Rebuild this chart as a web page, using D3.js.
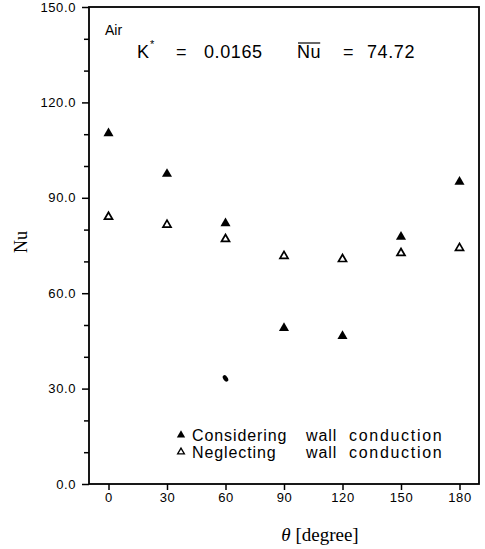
<!DOCTYPE html>
<html>
<head>
<meta charset="utf-8">
<script src="https://cdn.jsdelivr.net/npm/d3@7"></script>
<style>
  body { margin: 0; background: #fff; }
  svg { display: block; }
  .tick text { font-family: "Liberation Sans", Arial, sans-serif; font-size: 13px; letter-spacing: 0.6px; fill: #000; }
</style>
</head>
<body>
<div id="chart"></div>
<script>
// angles (degree) and Nu values
var theta = [0, 30, 60, 90, 120, 150, 180];
var nuWall = [110.3, 97.5, 82.0, 49.0, 46.5, 77.7, 95.0];    // considering wall conduction
var nuNoWall = [84.0, 81.5, 77.0, 71.7, 70.7, 72.6, 74.2];   // neglecting wall conduction
var smudge = [[60, 33.2]];
var yTicks = [0, 30, 60, 90, 120, 150];
var yMinor = [10, 20, 40, 50, 70, 80, 100, 110, 130, 140];
var xTicks = [0, 30, 60, 90, 120, 150, 180];

var W = 485, H = 549;
var plotL = 89, plotR = 479, plotT = 7, plotB = 484;

var svg = d3.select("#chart").append("svg")
    .attr("width", W)
    .attr("height", H);

var x = d3.scaleLinear().domain([-10, 190]).range([plotL, plotR]);
var y = d3.scaleLinear().domain([0, 150]).range([plotB, plotT]);

// frame
svg.append("rect")
    .attr("x", plotL).attr("y", plotT)
    .attr("width", plotR - plotL).attr("height", plotB - plotT)
    .attr("fill", "none")
    .attr("stroke", "#000")
    .attr("stroke-width", 1.8);

// y axis
svg.append("g")
    .attr("transform", "translate(" + plotL + ",0)")
    .call(d3.axisLeft(y).tickValues(yTicks).tickSize(7).tickPadding(6)
        .tickFormat(d3.format(".1f")))
    .call(function(g) { g.select(".domain").remove(); })
    .selectAll("line").attr("stroke-width", 1.5);

svg.append("g")
    .attr("transform", "translate(" + plotL + ",0)")
    .call(d3.axisLeft(y).tickValues(yMinor).tickSize(5).tickFormat(""))
    .call(function(g) { g.select(".domain").remove(); })
    .selectAll("line").attr("stroke-width", 1.5);

// x axis
svg.append("g")
    .attr("transform", "translate(0," + plotB + ")")
    .call(d3.axisBottom(x).tickValues(xTicks).tickSize(6).tickPadding(3)
        .tickFormat(d3.format("d")))
    .call(function(g) { g.select(".domain").remove(); })
    .selectAll("line").attr("stroke-width", 1.5);

// axis titles
svg.append("text")
    .attr("transform", "translate(27,242)rotate(-90)")
    .attr("text-anchor", "middle")
    .attr("font-family", "Liberation Serif, serif")
    .attr("font-size", 18)
    .text("Nu");

var xt = svg.append("text")
    .attr("x", 320).attr("y", 541)
    .attr("text-anchor", "middle")
    .attr("font-family", "Liberation Serif, serif")
    .attr("font-size", 19);
xt.append("tspan").attr("font-style", "italic").text("\u03B8");
xt.append("tspan").text(" [degree]");

// annotation
var sans = "Liberation Sans, Arial, sans-serif";
svg.append("text")
    .attr("x", 105).attr("y", 35)
    .attr("font-family", sans).attr("font-size", 14)
    .text("Air");

var annParts = [
    { t: "K", x: 137 },
    { t: "=", x: 176 },
    { t: "0.0165", x: 204 },
    { t: "Nu", x: 297, id: "nubar" },
    { t: "=", x: 343 },
    { t: "74.72", x: 367 }
];
annParts.forEach(function(p) {
    var t = svg.append("text")
        .attr("x", p.x).attr("y", 58)
        .attr("font-family", sans).attr("font-size", 18)
        .attr("letter-spacing", 0.6)
        .text(p.t);
    if (p.id) t.attr("id", p.id);
});
svg.append("text")
    .attr("x", 150).attr("y", 48)
    .attr("font-family", sans).attr("font-size", 11)
    .text("*");

// overline above Nu
var nb = document.getElementById("nubar").getBBox();
svg.append("line")
    .attr("x1", nb.x + 1).attr("x2", nb.x + nb.width - 1)
    .attr("y1", 43).attr("y2", 43)
    .attr("stroke", "#000").attr("stroke-width", 1.2);

// markers
svg.append("g").selectAll("path")
    .data(theta.map(function(t, i) { return [t, nuWall[i]]; }))
    .enter().append("path")
    .attr("d", d3.symbol().type(d3.symbolTriangle).size(44))
    .attr("transform", function(d) { return "translate(" + x(d[0]) + "," + y(d[1]) + ")"; })
    .attr("fill", "#000");

svg.append("g").selectAll("path")
    .data(theta.map(function(t, i) { return [t, nuNoWall[i]]; }))
    .enter().append("path")
    .attr("d", d3.symbol().type(d3.symbolTriangle).size(28))
    .attr("transform", function(d) { return "translate(" + x(d[0]) + "," + y(d[1]) + ")"; })
    .attr("fill", "none")
    .attr("stroke", "#000")
    .attr("stroke-width", 1.7);

svg.append("g").selectAll("ellipse")
    .data(smudge)
    .enter().append("ellipse")
    .attr("rx", 2.2).attr("ry", 3.6)
    .attr("transform", function(d) { return "translate(" + x(d[0]) + "," + y(d[1]) + ")rotate(-35)"; })
    .attr("fill", "#000");

// legend
var legend = [
    { sym: "fill", words: ["Considering", "wall", "conduction"], yy: 436 },
    { sym: "open", words: ["Neglecting", "wall", "conduction"], yy: 453 }
];
var cols = [192, 306, 349];
legend.forEach(function(l) {
    svg.append("path")
        .attr("d", d3.symbol().type(d3.symbolTriangle).size(l.sym == "fill" ? 30 : 20))
        .attr("transform", "translate(181," + (l.yy - 1) + ")")
        .attr("fill", l.sym == "fill" ? "#000" : "none")
        .attr("stroke", l.sym == "fill" ? "none" : "#000")
        .attr("stroke-width", 1.3);
    l.words.forEach(function(w, i) {
        svg.append("text")
            .attr("x", cols[i]).attr("y", l.yy + 5)
            .attr("font-family", sans).attr("font-size", 16)
            .attr("letter-spacing", i == 2 ? 1.7 : 0.9)
            .text(w);
    });
});
</script>
</body>
</html>
